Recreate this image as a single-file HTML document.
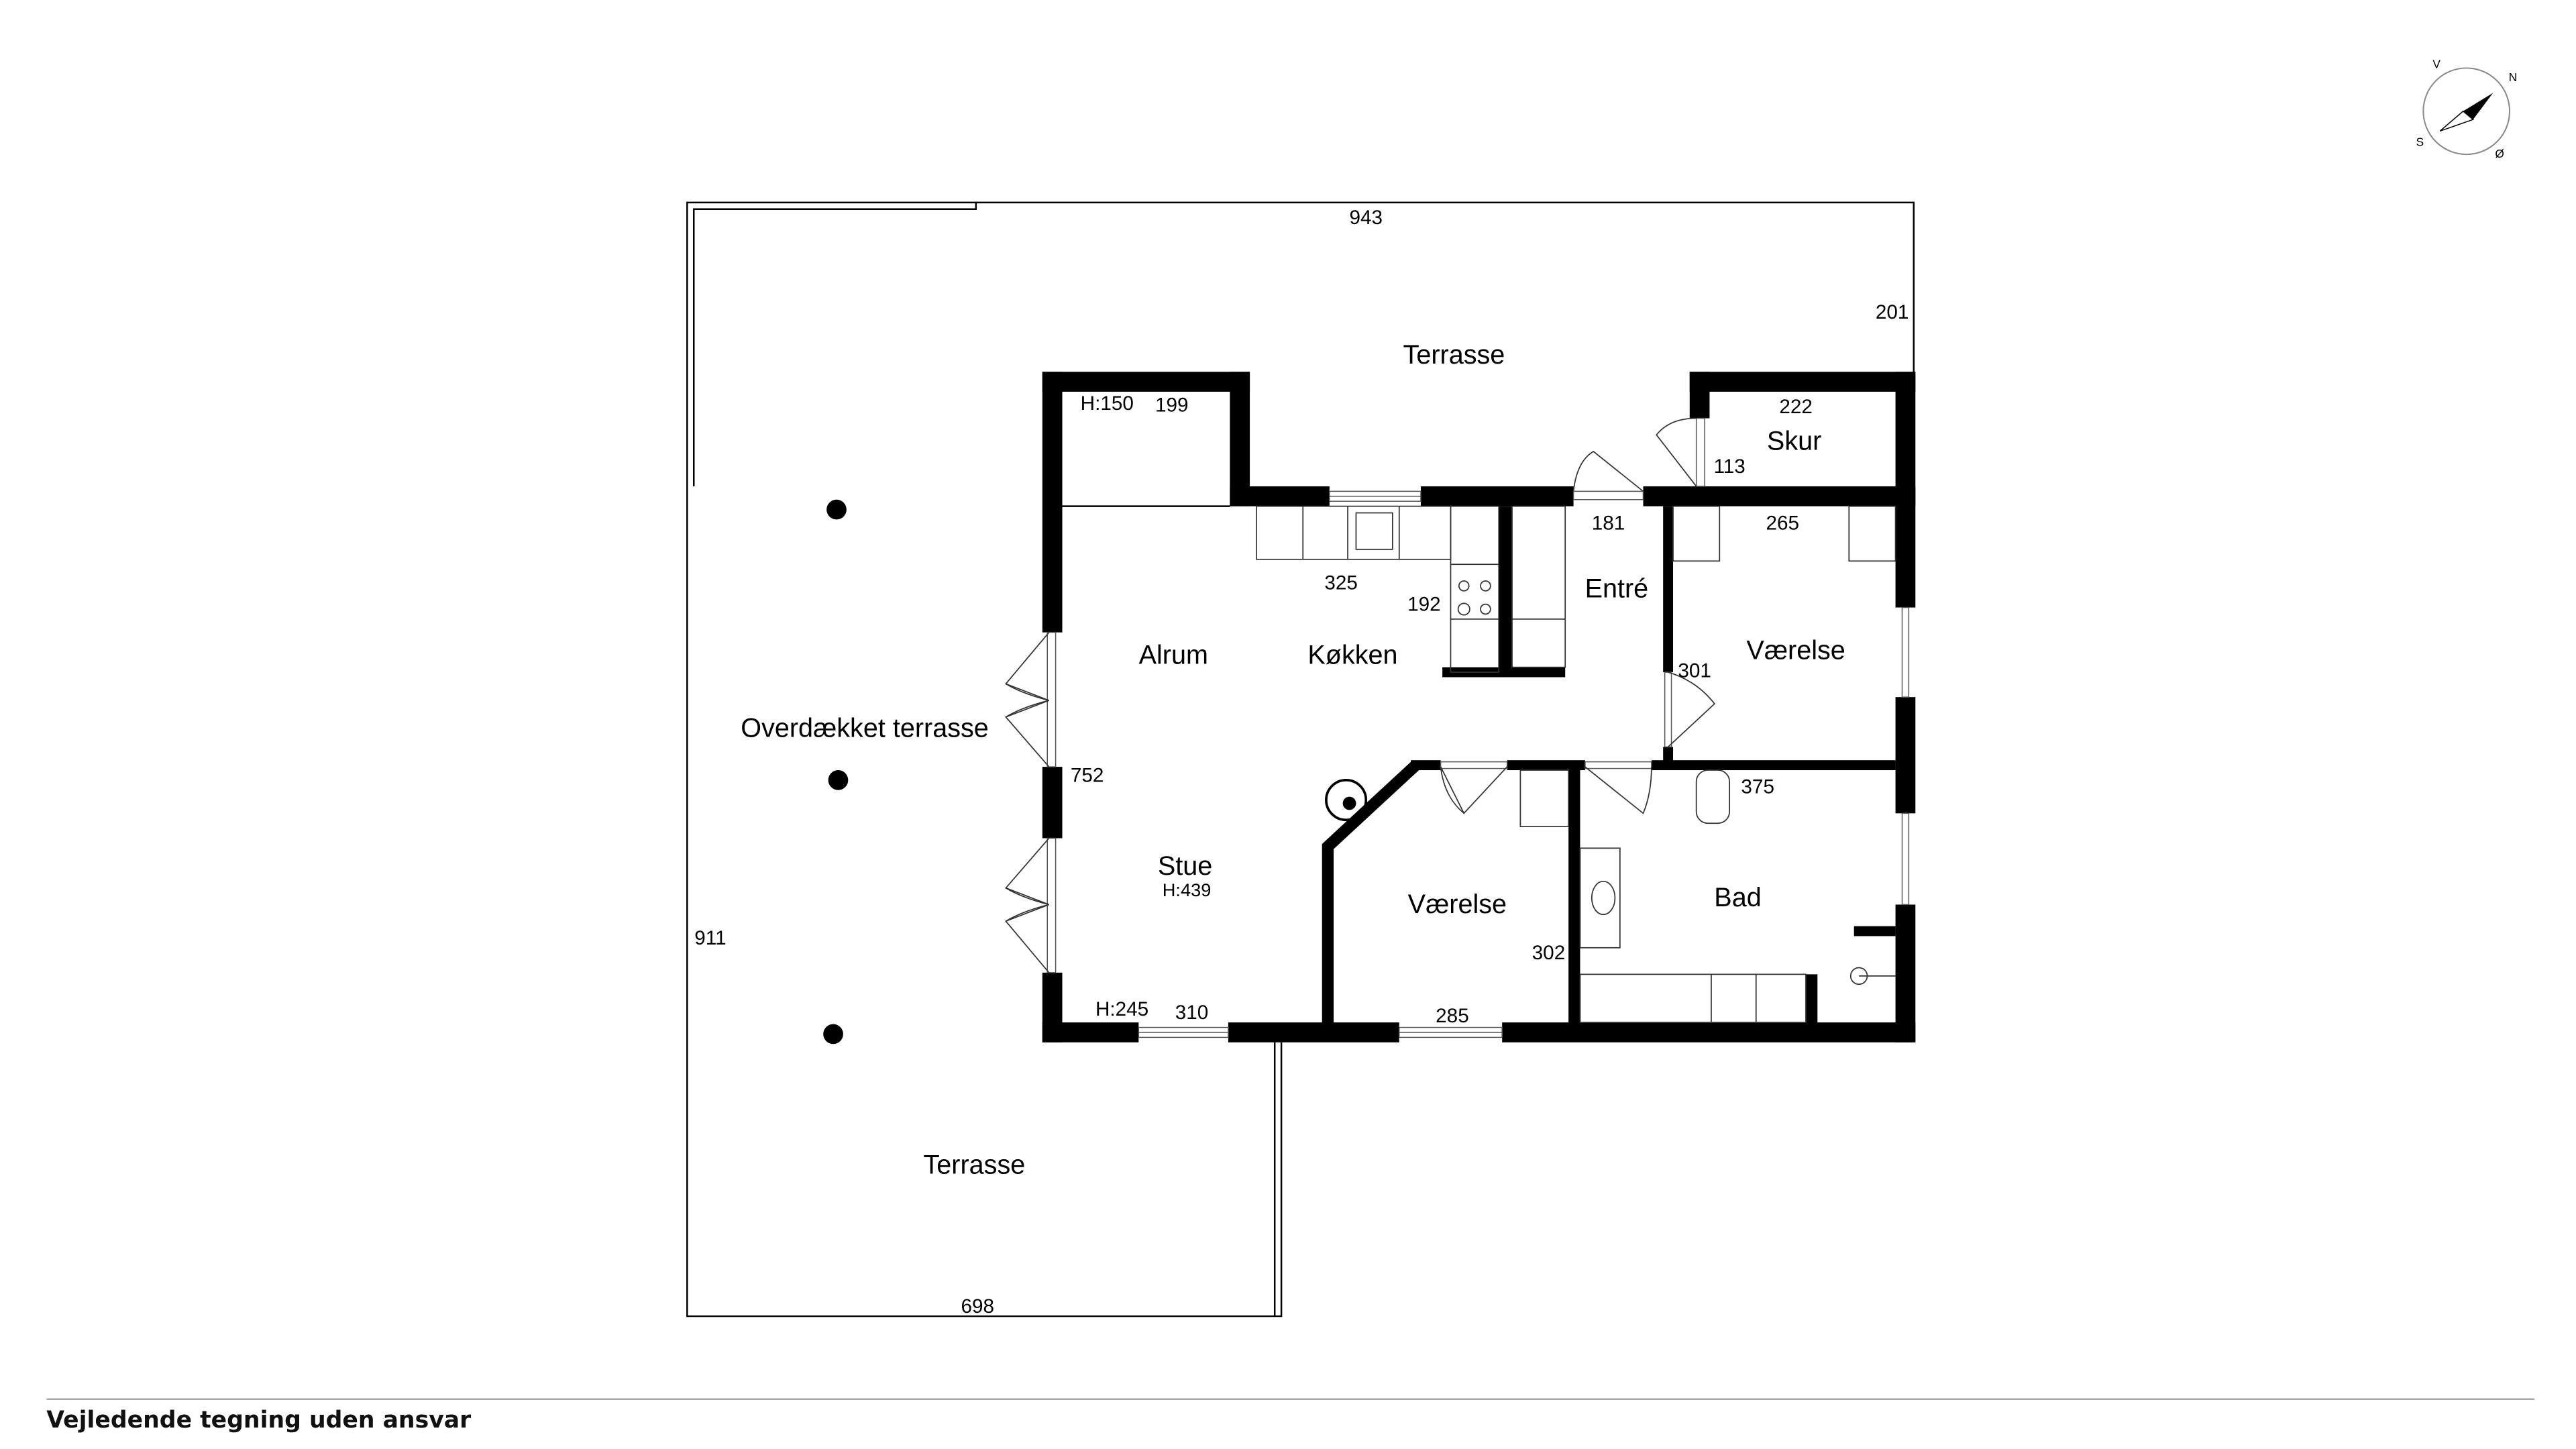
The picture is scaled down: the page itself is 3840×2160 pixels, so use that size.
<!DOCTYPE html>
<html><head><meta charset="utf-8"><style>html,body{margin:0;padding:0;background:#fff}svg{display:block}</style></head>
<body>
<svg width="3840" height="2160" viewBox="0 0 1552 873" xmlns="http://www.w3.org/2000/svg" font-family="Liberation Sans, sans-serif">
<rect width="1552" height="873" fill="#fff"/>
<!-- terrace outlines -->
<g fill="none" stroke="#000" stroke-width="1">
<path d="M414 293 V122 H1153 V228"/>
<path d="M418 293 V126 H588 V122"/>
<path d="M414 293 V793 H772 V628"/>
<path d="M768 628 V793"/>
<path d="M640 305 H741"/>
</g>
<g fill="#000">
<!-- left wall -->
<rect x="628" y="224" width="12" height="157"/>
<rect x="628" y="462" width="12" height="43"/>
<rect x="628" y="586" width="12" height="42"/>
<!-- top-left room -->
<rect x="628" y="224" width="125" height="12"/>
<rect x="741" y="224" width="12" height="81"/>
<!-- top wall -->
<rect x="741" y="293" width="60" height="12"/>
<rect x="856" y="293" width="92" height="12"/>
<rect x="990" y="293" width="164" height="12"/>
<!-- kitchen partitions -->
<rect x="903" y="305" width="8" height="100"/>
<rect x="869" y="402" width="74" height="6"/>
<!-- entre wall -->
<rect x="1002" y="305" width="6" height="100"/>
<rect x="1002" y="450" width="6" height="12"/>
<!-- skur -->
<rect x="1018" y="224" width="136" height="12"/>
<rect x="1018" y="224" width="12" height="28"/>
<!-- right wall -->
<rect x="1142" y="224" width="12" height="142"/>
<rect x="1142" y="420" width="12" height="70"/>
<rect x="1142" y="545" width="12" height="83"/>
<rect x="1117" y="558" width="25" height="6"/>
<!-- mid horizontal -->
<rect x="850" y="458" width="18" height="6"/>
<rect x="908" y="458" width="47" height="6"/>
<rect x="995" y="458" width="147" height="6"/>
<!-- bottom wall -->
<rect x="628" y="616" width="58" height="12"/>
<rect x="740" y="616" width="103" height="12"/>
<rect x="905" y="616" width="249" height="12"/>
<!-- vertical -->
<rect x="945" y="461" width="7" height="157"/>
<rect x="1088" y="587" width="7" height="30"/>
<!-- pillars -->
<circle cx="504" cy="307" r="6"/>
<circle cx="505" cy="470" r="6"/>
<circle cx="502" cy="623" r="6"/>
</g>
<path d="M853 461 L800 510 V617" fill="none" stroke="#000" stroke-width="7"/>
<!-- windows -->
<g fill="#fff" stroke="#555" stroke-width="0.6">
<rect x="801" y="296" width="55" height="6"/><line x1="801" y1="299" x2="856" y2="299"/>
<rect x="686" y="619" width="54" height="6"/><line x1="686" y1="622" x2="740" y2="622"/>
<rect x="843" y="619" width="62" height="6"/><line x1="843" y1="622" x2="905" y2="622"/>
<rect x="1146" y="366" width="4" height="54"/>
<rect x="1146" y="490" width="4" height="55"/>
<rect x="948" y="296" width="42" height="5"/>
<rect x="1022" y="252" width="5" height="41"/>
<rect x="1003" y="405" width="4" height="45"/>
<rect x="631" y="381" width="5" height="81"/>
<rect x="631" y="505" width="5" height="81"/>
<rect x="868" y="459" width="40" height="4"/>
<rect x="955" y="459" width="40" height="4"/>
</g>
<!-- door swings -->
<g fill="none" stroke="#333" stroke-width="0.7">
<path d="M948 296 Q950 278 960 272 L990 296"/>
<path d="M1022 293 L998 262 Q1006 252 1022 252"/>
<path d="M1005 405 Q1022 410 1033 424 L1005 450"/>
<path d="M868 462 L882 490 L908 462"/><path d="M868 462 Q870 480 882 490"/>
<path d="M955 462 L990 490 Q995 478 995 462"/>
<path d="M632 381 L606 412 L632 422"/><path d="M632 462 L606 432 L632 422"/><path d="M606 412 Q616 418 632 422 M606 432 Q616 426 632 422"/>
<path d="M632 505 L606 535 L632 545"/><path d="M632 586 L606 555 L632 545"/><path d="M606 535 Q616 541 632 545 M606 555 Q616 549 632 545"/>
</g>
<!-- fixtures -->
<g fill="none" stroke="#333" stroke-width="0.7">
<rect x="757" y="305" width="117" height="32"/>
<line x1="785" y1="305" x2="785" y2="337"/><line x1="812" y1="305" x2="812" y2="337"/><line x1="843" y1="305" x2="843" y2="337"/>
<rect x="817" y="309" width="22" height="22"/>
<rect x="874" y="305" width="29" height="100"/>
<line x1="874" y1="340" x2="903" y2="340"/><line x1="874" y1="373" x2="903" y2="373"/>
<circle cx="882" cy="353" r="3"/><circle cx="895" cy="353" r="3"/><circle cx="882" cy="367" r="3.5"/><circle cx="895" cy="367" r="3"/>
<rect x="911" y="305" width="32" height="97"/><line x1="911" y1="373" x2="943" y2="373"/>
<rect x="1008" y="305" width="28" height="33"/>
<rect x="1114" y="305" width="28" height="33"/>
<rect x="916" y="464" width="29" height="34"/>
<rect x="1022" y="464" width="20" height="32" rx="7"/>
<rect x="952" y="511" width="24" height="60"/><ellipse cx="966" cy="541" rx="7" ry="10"/>
<rect x="952" y="587" width="136" height="29"/>
<line x1="1031" y1="587" x2="1031" y2="616"/><line x1="1058" y1="587" x2="1058" y2="616"/>
<circle cx="1120" cy="588" r="5"/><line x1="1120" y1="588" x2="1142" y2="588"/>
<circle cx="811" cy="482" r="12" stroke="#000" stroke-width="1.5"/>
</g>
<circle cx="813" cy="484" r="4" fill="#000"/>
<!-- labels -->
<g font-size="16" fill="#000" text-anchor="middle">
<text x="876" y="219">Terrasse</text>
<text x="1081" y="271">Skur</text>
<text x="974" y="360">Entré</text>
<text x="1082" y="397">Værelse</text>
<text x="707" y="400">Alrum</text>
<text x="815" y="400">Køkken</text>
<text x="521" y="444">Overdækket terrasse</text>
<text x="714" y="527">Stue</text>
<text x="878" y="550">Værelse</text>
<text x="1047" y="546">Bad</text>
<text x="587" y="707">Terrasse</text>
</g>
<g font-size="12" fill="#000" text-anchor="middle">
<text x="823" y="135">943</text>
<text x="1140" y="192">201</text>
<text x="667" y="247">H:150</text>
<text x="706" y="248">199</text>
<text x="1082" y="249">222</text>
<text x="1042" y="285">113</text>
<text x="969" y="319">181</text>
<text x="1074" y="319">265</text>
<text x="808" y="355">325</text>
<text x="858" y="368">192</text>
<text x="1021" y="408">301</text>
<text x="655" y="471">752</text>
<text x="1059" y="478">375</text>
<text x="715" y="540" font-size="11">H:439</text>
<text x="933" y="578">302</text>
<text x="428" y="569">911</text>
<text x="676" y="612">H:245</text>
<text x="718" y="614">310</text>
<text x="875" y="616">285</text>
<text x="589" y="791">698</text>
</g>
<!-- compass -->
<g>
<circle cx="1486" cy="67" r="26" fill="none" stroke="#888" stroke-width="0.8"/>
<path d="M1502 56 L1484 67 L1490 72 Z" fill="#000"/>
<path d="M1470 79 L1484 67 L1490 72 Z" fill="#fff" stroke="#000" stroke-width="0.6"/>
<g font-size="7" fill="#000" text-anchor="middle"><text x="1468" y="41">V</text><text x="1514" y="49">N</text><text x="1458" y="88">S</text><text x="1506" y="95">Ø</text></g>
</g>
<line x1="28" y1="843" x2="1527" y2="843" stroke="#aaa" stroke-width="1"/>
<text x="28" y="860" font-size="14" font-weight="bold" fill="#111" font-family="DejaVu Sans, sans-serif" style="font-weight:600">Vejledende tegning uden ansvar</text>
</svg>
</body></html>
